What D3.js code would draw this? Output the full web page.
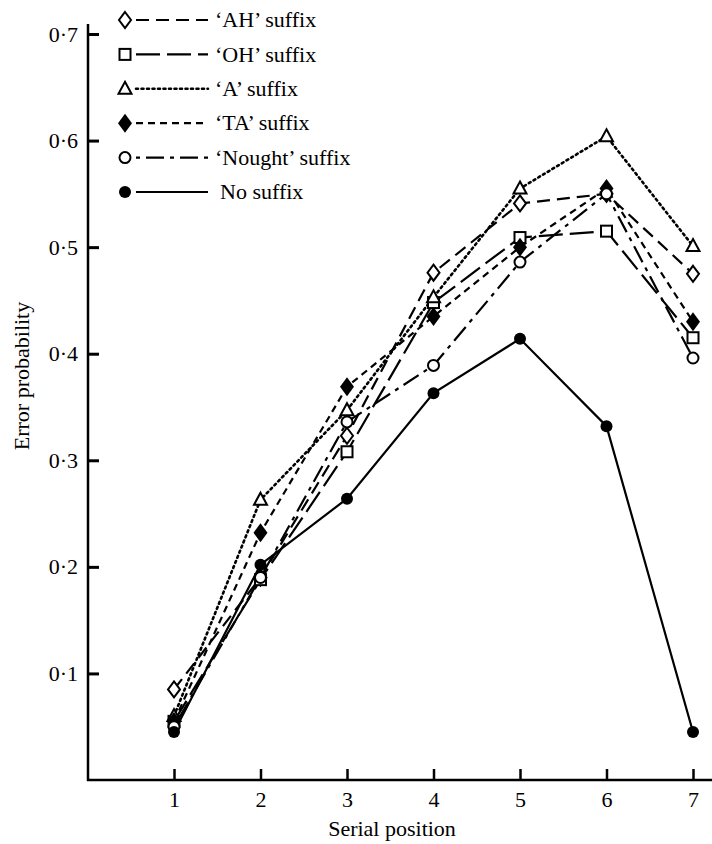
<!DOCTYPE html>
<html>
<head>
<meta charset="utf-8">
<script src="https://cdn.jsdelivr.net/npm/d3@7"></script>
<style>
  body { margin: 0; background: #fff; }
  text { font-family: "Liberation Serif", "DejaVu Serif", serif; fill: #000; }
</style>
</head>
<body>
<div id="chart"></div>
<script>
  // ---- data ----
  const positions = [1, 2, 3, 4, 5, 6, 7];
  const yTicks = [0.1, 0.2, 0.3, 0.4, 0.5, 0.6, 0.7];

  const seriesNames = ["\u2018AH\u2019 suffix", "\u2018OH\u2019 suffix", "\u2018A\u2019 suffix",
                       "\u2018TA\u2019 suffix", "\u2018Nought\u2019 suffix", "No suffix"];
  const ahValues     = [0.085, 0.190, 0.323, 0.476, 0.541, 0.550, 0.475];
  const ohValues     = [0.055, 0.188, 0.308, 0.448, 0.509, 0.515, 0.415];
  const aValues      = [0.060, 0.263, 0.347, 0.453, 0.555, 0.604, 0.501];
  const taValues     = [0.055, 0.232, 0.369, 0.435, 0.500, 0.555, 0.430];
  const noughtValues = [0.050, 0.190, 0.336, 0.389, 0.486, 0.550, 0.396];
  const noneValues   = [0.045, 0.202, 0.264, 0.363, 0.414, 0.332, 0.045];

  const allValues = [ahValues, ohValues, aValues, taValues, noughtValues, noneValues];

  // line style + marker per series
  const dashes  = ["13,7", "24,7", "2,3.5", "7,5", "4,6,18,6", null];
  const markers = ["diamond", "square", "triangle", "fdiamond", "circle", "fcircle"];

  const W = 712, H = 844;
  const FS = 22;
  const svg = d3.select('#chart').append('svg')
    .attr('width', W).attr('height', H);

  const x = d3.scaleLinear().domain([1, 7]).range([174, 693]);
  const y = d3.scaleLinear().domain([0, 0.7]).range([780, 34]);
  const fmt = d => d3.format('.1f')(d).replace('.', '\u00B7');

  // axis lines
  svg.append('line').attr('x1', 88).attr('x2', 88).attr('y1', 24).attr('y2', 781)
    .attr('stroke', '#000').attr('stroke-width', 2.5);
  svg.append('line').attr('x1', 87).attr('x2', W).attr('y1', 780).attr('y2', 780)
    .attr('stroke', '#000').attr('stroke-width', 2.5);

  // y axis
  const yAxis = svg.append('g').attr('transform', 'translate(88,0)')
    .call(d3.axisLeft(y).tickValues(yTicks).tickFormat(fmt).tickSizeInner(-11).tickSizeOuter(0).tickPadding(10));
  yAxis.select('.domain').remove();
  yAxis.selectAll('.tick line').attr('stroke-width', 3);
  yAxis.selectAll('.tick text').attr('font-size', FS).attr('font-family', '"Liberation Serif", serif');

  // x axis
  const xAxis = svg.append('g').attr('transform', 'translate(0,780)')
    .call(d3.axisBottom(x).tickValues(positions).tickFormat(d3.format('d')).tickSizeInner(-11).tickSizeOuter(0).tickPadding(11));
  xAxis.select('.domain').remove();
  xAxis.selectAll('.tick line').attr('stroke-width', 2.5);
  xAxis.selectAll('.tick text').attr('font-size', FS).attr('font-family', '"Liberation Serif", serif');

  // axis titles
  svg.append('text').attr('x', 392).attr('y', 836).attr('text-anchor', 'middle')
    .attr('font-size', FS).text('Serial position');
  svg.append('text').attr('transform', 'translate(29,376) rotate(-90)')
    .attr('text-anchor', 'middle').attr('font-size', FS).text('Error probability');

  // markers
  function drawMarker(g, type, cx, cy) {
    const sw = 2;
    switch (type) {
      case 'diamond':
        g.append('path')
          .attr('d', `M${cx},${cy - 8}L${cx + 6},${cy}L${cx},${cy + 8}L${cx - 6},${cy}Z`)
          .attr('fill', '#fff').attr('stroke', '#000').attr('stroke-width', sw);
        break;
      case 'fdiamond':
        g.append('path')
          .attr('d', `M${cx},${cy - 9.5}L${cx + 7},${cy}L${cx},${cy + 9.5}L${cx - 7},${cy}Z`)
          .attr('fill', '#000');
        break;
      case 'square':
        g.append('rect').attr('x', cx - 5.5).attr('y', cy - 5.5).attr('width', 11).attr('height', 11)
          .attr('fill', '#fff').attr('stroke', '#000').attr('stroke-width', sw);
        break;
      case 'triangle':
        g.append('path')
          .attr('d', `M${cx},${cy - 7}L${cx + 6.5},${cy + 5}L${cx - 6.5},${cy + 5}Z`)
          .attr('fill', '#fff').attr('stroke', '#000').attr('stroke-width', sw);
        break;
      case 'circle':
        g.append('circle').attr('cx', cx).attr('cy', cy).attr('r', 5.5)
          .attr('fill', '#fff').attr('stroke', '#000').attr('stroke-width', sw);
        break;
      case 'fcircle':
        g.append('circle').attr('cx', cx).attr('cy', cy).attr('r', 6).attr('fill', '#000');
        break;
    }
  }

  // lines
  const line = d3.line().x((d, i) => x(positions[i])).y(d => y(d));
  const plot = svg.append('g');
  allValues.forEach((vals, s) => {
    plot.append('path').datum(vals)
      .attr('d', line)
      .attr('fill', 'none')
      .attr('stroke', '#000')
      .attr('stroke-width', s === 2 ? 2.6 : 2.2)
      .attr('stroke-linecap', s === 2 ? 'round' : 'butt')
      .attr('stroke-dasharray', dashes[s]);
  });
  allValues.forEach((vals, s) => {
    const g = plot.append('g');
    vals.forEach((v, i) => drawMarker(g, markers[s], x(positions[i]), y(v)));
  });

  // legend
  const legendY = d3.scaleLinear().domain([0, 5]).range([20, 192]);
  const legend = svg.append('g');
  seriesNames.forEach((name, s) => {
    const ly = legendY(s);
    legend.append('line').attr('x1', 136).attr('x2', 208).attr('y1', ly).attr('y2', ly)
      .attr('stroke', '#000')
      .attr('stroke-width', s === 2 ? 2.6 : 2.2)
      .attr('stroke-linecap', s === 2 ? 'round' : 'butt')
      .attr('stroke-dasharray', dashes[s]);
    drawMarker(legend, markers[s], 125, ly);
    legend.append('text').attr('x', s === 5 ? 220 : 215).attr('y', ly).attr('dy', '0.33em')
      .attr('font-size', FS).text(name);
  });
</script>
</body>
</html>
